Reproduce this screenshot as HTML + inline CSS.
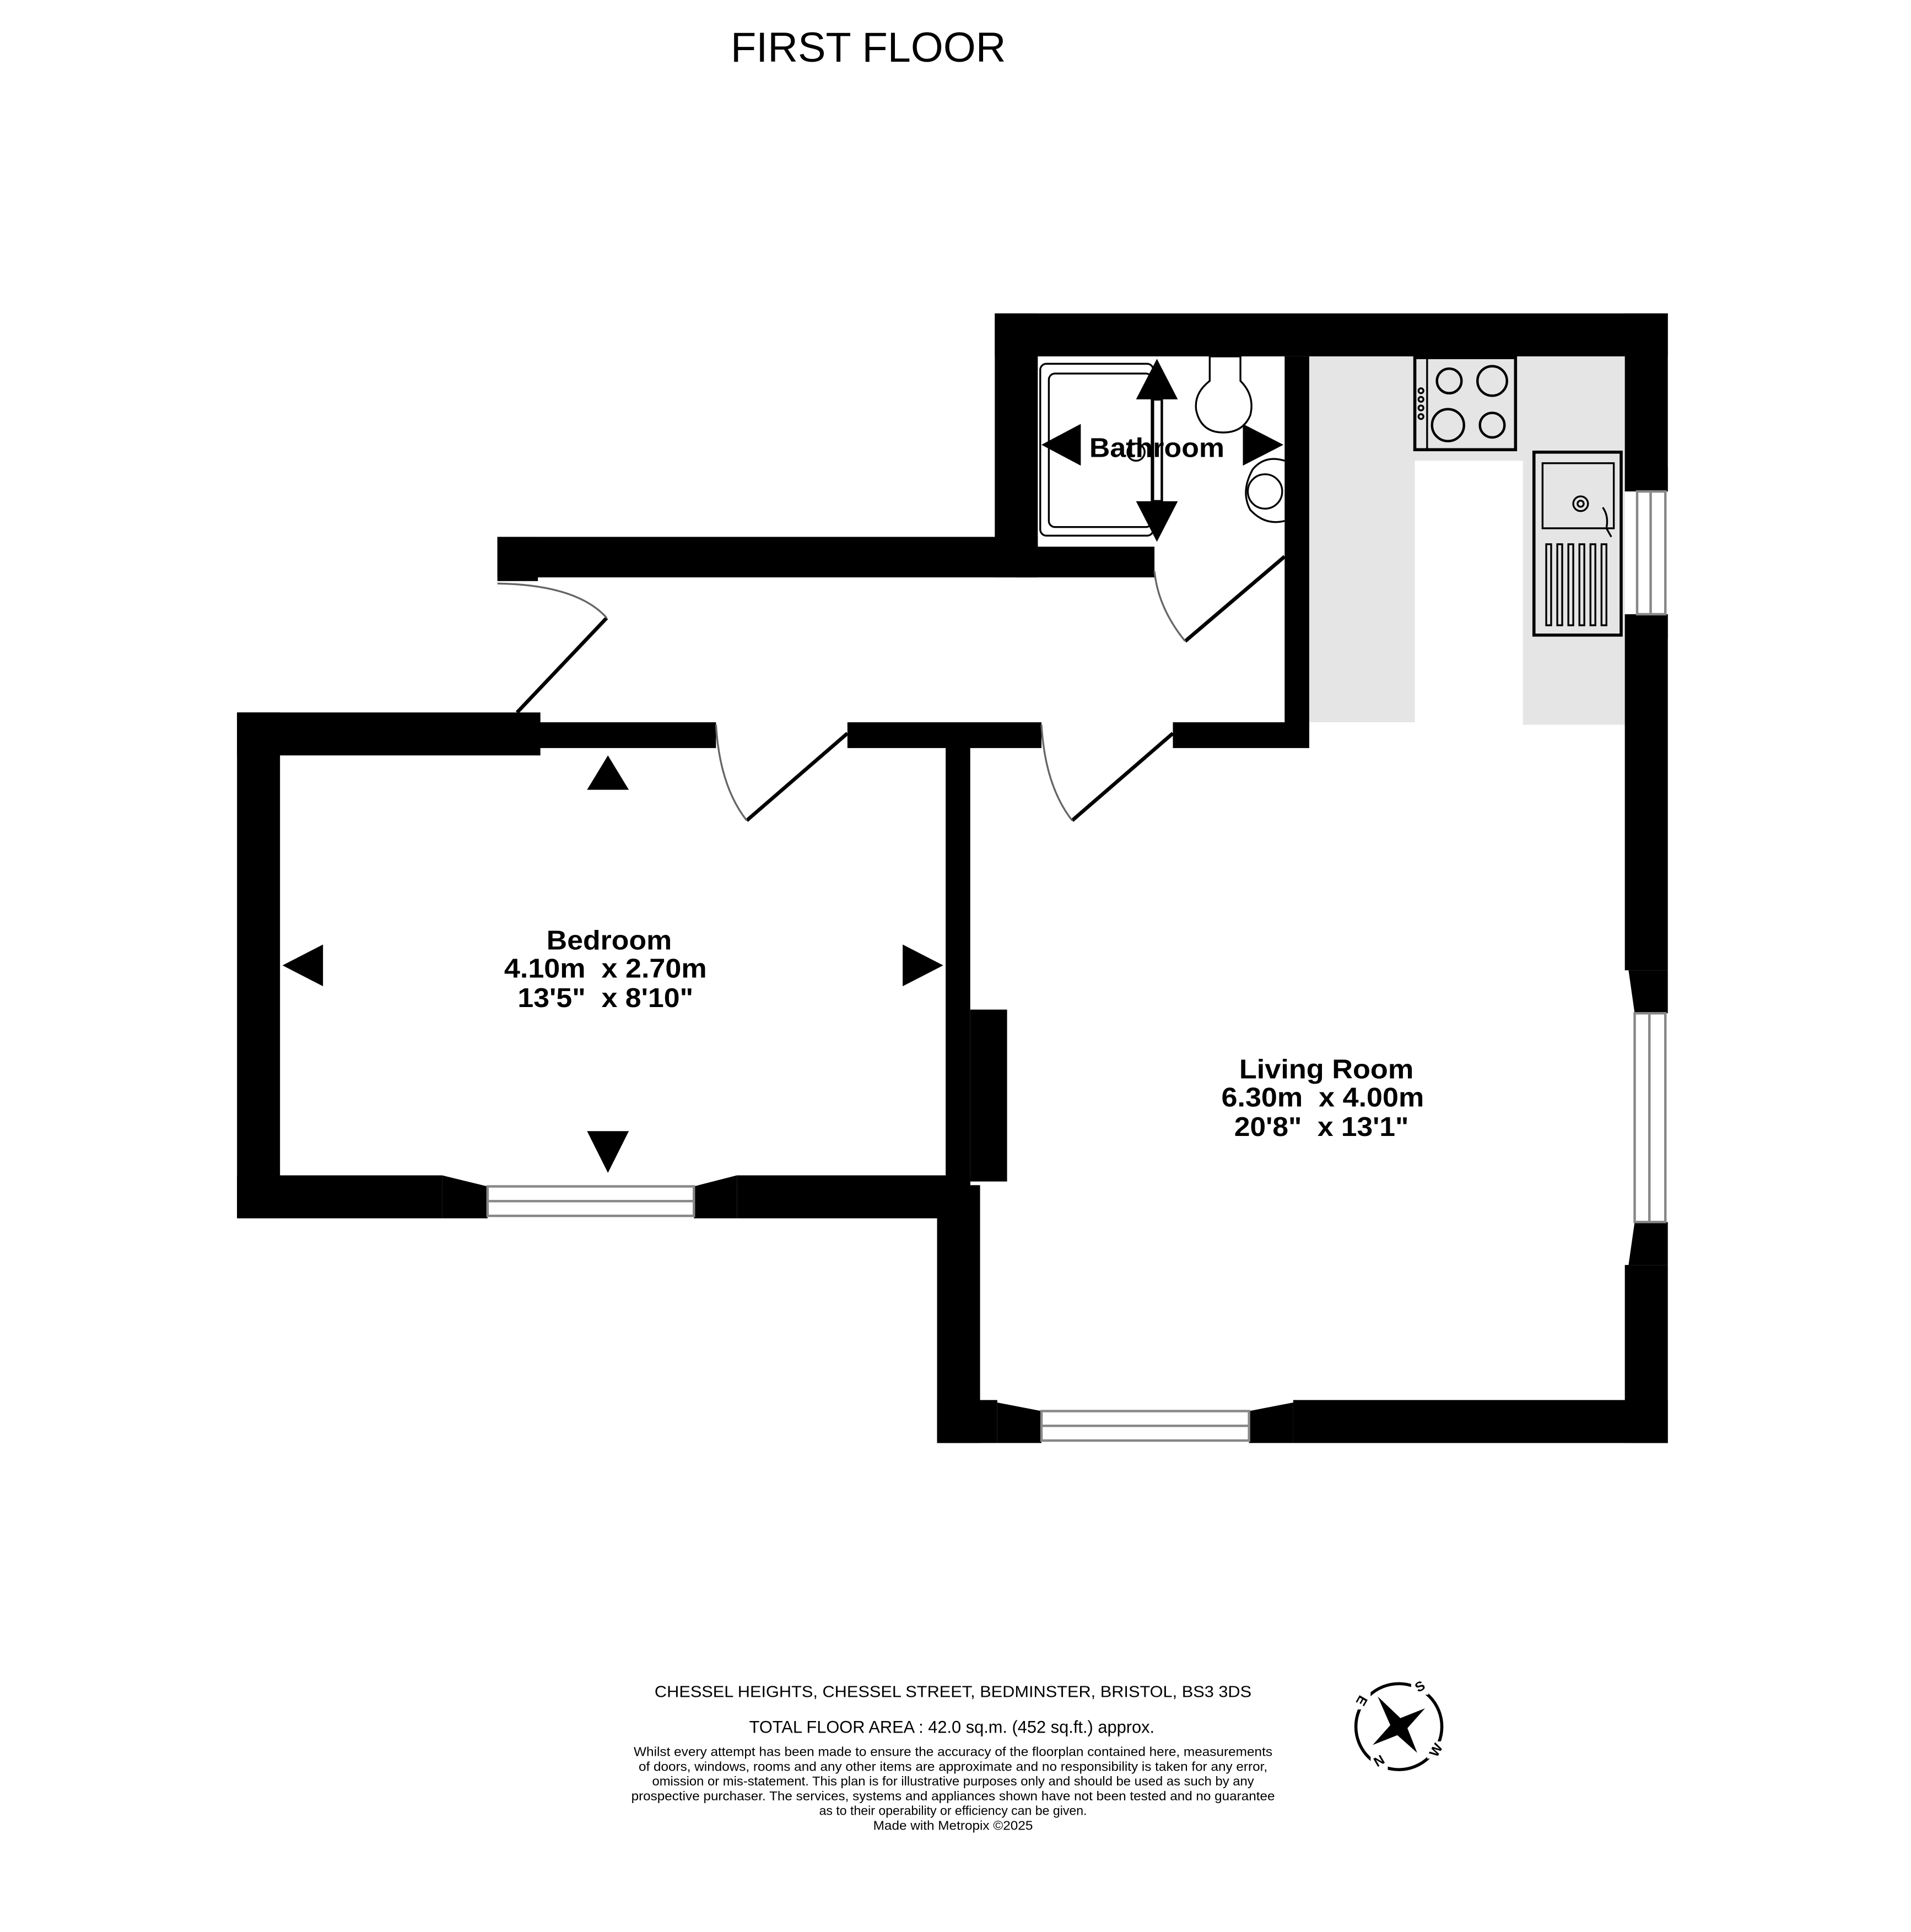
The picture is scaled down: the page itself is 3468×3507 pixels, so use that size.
<!DOCTYPE html>
<html><head><meta charset="utf-8"><style>
html,body{margin:0;padding:0;background:#fff;}
svg{display:block;}
text{font-family:"Liberation Sans",sans-serif;fill:#000;}
</style></head><body>
<svg width="3468" height="3507" viewBox="0 0 1556 1573" xmlns="http://www.w3.org/2000/svg">
<rect width="1556" height="1573" fill="#fff"/>
<text x="707" y="50" font-size="34" text-anchor="middle">FIRST FLOOR</text>

<!-- kitchen grey -->
<rect x="1066" y="290" width="257" height="85" fill="#e5e5e5"/>
<rect x="1066" y="290" width="86" height="298" fill="#e5e5e5"/>
<rect x="1240" y="290" width="83" height="300" fill="#e5e5e5"/>

<g fill="#000">
<!-- top walls -->
<rect x="810" y="255" width="548" height="35"/>
<rect x="810" y="255" width="35" height="215"/>
<rect x="1046" y="290" width="20" height="318"/>
<rect x="828" y="445" width="112" height="25"/>
<rect x="405" y="437" width="440" height="33"/>
<rect x="405" y="437" width="33" height="36"/>
<!-- right wall -->
<rect x="1323" y="255" width="35" height="145"/>
<rect x="1323" y="500" width="35" height="290"/>
<rect x="1323" y="1030" width="35" height="145"/>
<polygon points="1326,790 1358,790 1358,825 1331,825"/>
<polygon points="1331,995 1358,995 1358,1030 1326,1030"/>
<polygon points="1328,380 1358,380 1358,400 1333,400"/>
<polygon points="1333,500 1358,500 1358,520 1328,520"/>
<!-- bottom living wall -->
<rect x="763" y="1140" width="49" height="35"/>
<rect x="1053" y="1140" width="305" height="35"/>
<polygon points="812,1142 848,1149 848,1175 812,1175"/>
<polygon points="1017,1149 1053,1142 1053,1175 1017,1175"/>
<!-- living left -->
<rect x="763" y="965" width="35" height="210"/>
<rect x="770" y="590" width="20" height="400"/>
<rect x="790" y="822" width="30" height="140"/>
<!-- corridor bottom / bedroom top -->
<rect x="193" y="580" width="247" height="35"/>
<rect x="438" y="588" width="145" height="21"/>
<rect x="690" y="588" width="158" height="21"/>
<rect x="955" y="588" width="111" height="21"/>
<!-- bedroom -->
<rect x="193" y="580" width="35" height="412"/>
<rect x="193" y="957" width="167" height="35"/>
<rect x="600" y="957" width="190" height="35"/>
<polygon points="360,957 397,966 397,992 360,992"/>
<polygon points="565,966 600,957 600,992 565,992"/>
<!-- arrows -->
<polygon points="495,615 478,643 512,643"/>
<polygon points="230,786 263,769 263,803"/>
<polygon points="768,786 735,769 735,803"/>
<polygon points="495,955 478,921 512,921"/>
<polygon points="942,292 925,325 959,325"/>
<polygon points="942,441 925,408 959,408"/>
<polygon points="848,362 880,345 880,379"/>
<polygon points="1045,362 1012,345 1012,379"/>
</g>
<rect x="938" y="325" width="8" height="83" fill="none" stroke="#000" stroke-width="2"/>

<!-- windows -->
<g fill="none" stroke="#888" stroke-width="2">
<rect x="397" y="966" width="168" height="24"/><line x1="397" y1="978" x2="565" y2="978"/>
<rect x="848" y="1149" width="169" height="24"/><line x1="848" y1="1161" x2="1017" y2="1161"/>
<rect x="1331" y="825" width="25" height="170"/><line x1="1343" y1="825" x2="1343" y2="995"/>
<rect x="1333" y="400" width="23" height="100"/><line x1="1344" y1="400" x2="1344" y2="500"/>
</g>

<!-- doors -->
<g fill="none" stroke="#000">
<line x1="421" y1="580" x2="494" y2="503" stroke-width="3"/>
<path d="M405,475 Q470,476 494,503" stroke="#666" stroke-width="1.5"/>
<line x1="608" y1="668" x2="690" y2="597" stroke-width="3"/>
<path d="M583,590 Q586,640 608,668" stroke="#666" stroke-width="1.5"/>
<line x1="873" y1="668" x2="955" y2="597" stroke-width="3"/>
<path d="M848,590 Q851,640 873,668" stroke="#666" stroke-width="1.5"/>
<line x1="965" y1="522" x2="1046" y2="453" stroke-width="3"/>
<path d="M940,465 Q943,495 965,522" stroke="#666" stroke-width="1.5"/>
</g>

<!-- bathroom fixtures -->
<g fill="none" stroke="#000" stroke-width="1.5">
<rect x="847" y="296" width="92" height="140" rx="5"/>
<rect x="854" y="304" width="84" height="125" rx="5"/>
<path d="M985,290 L1010,290 L1010,310 Q1022,322 1018,338 Q1012,352 996,352 Q978,352 974,334 Q972,320 985,310 Z"/>
<path d="M1046,375 Q1030,370 1020,382 Q1010,400 1018,415 Q1030,428 1046,424"/>
<circle cx="1030" cy="400" r="14"/>
<circle cx="925" cy="368" r="7"/>
<!-- hob -->
<rect x="1152" y="291" width="82" height="75" stroke-width="2.5"/>
<line x1="1162" y1="291" x2="1162" y2="366"/>
<circle cx="1180" cy="310" r="10" stroke-width="2"/>
<circle cx="1215" cy="310" r="12" stroke-width="2"/>
<circle cx="1179" cy="346" r="13" stroke-width="2"/>
<circle cx="1215" cy="346" r="10" stroke-width="2"/>
<circle cx="1157" cy="318" r="2"/><circle cx="1157" cy="325" r="2"/><circle cx="1157" cy="332" r="2"/><circle cx="1157" cy="339" r="2"/>
<!-- sink -->
<rect x="1249" y="368" width="71" height="149" stroke-width="2.5"/>
<rect x="1256" y="377" width="58" height="53"/>
<circle cx="1287" cy="410" r="6"/><circle cx="1287" cy="410" r="2.5"/>
<path d="M1305,413 Q1310,420 1308,430 L1312,437"/>
<rect x="1259" y="443" width="4" height="66"/><rect x="1268" y="443" width="4" height="66"/>
<rect x="1277" y="443" width="4" height="66"/><rect x="1286" y="443" width="4" height="66"/>
<rect x="1295" y="443" width="4" height="66"/><rect x="1304" y="443" width="4" height="66"/>
</g>

<!-- labels -->
<g font-weight="bold" font-size="22" text-anchor="middle">
<text x="942" y="372" textLength="110" lengthAdjust="spacingAndGlyphs">Bathroom</text>
<text x="496" y="773" textLength="102" lengthAdjust="spacingAndGlyphs">Bedroom</text>
<text x="493" y="796" textLength="165" lengthAdjust="spacingAndGlyphs" xml:space="preserve">4.10m  x 2.70m</text>
<text x="493" y="820" textLength="143" lengthAdjust="spacingAndGlyphs" xml:space="preserve">13'5"  x 8'10"</text>
<text x="1080" y="878" textLength="142" lengthAdjust="spacingAndGlyphs">Living Room</text>
<text x="1077" y="901" textLength="165" lengthAdjust="spacingAndGlyphs" xml:space="preserve">6.30m  x 4.00m</text>
<text x="1076" y="925" textLength="142" lengthAdjust="spacingAndGlyphs" xml:space="preserve">20'8"  x 13'1"</text>
</g>

<!-- footer -->
<g text-anchor="middle">
<text x="776" y="1382" font-size="13" textLength="486" lengthAdjust="spacingAndGlyphs">CHESSEL HEIGHTS, CHESSEL STREET, BEDMINSTER, BRISTOL, BS3 3DS</text>
<text x="775" y="1411" font-size="14" textLength="330" lengthAdjust="spacingAndGlyphs">TOTAL FLOOR AREA : 42.0 sq.m. (452 sq.ft.) approx.</text>
<g font-size="10.5">
<text x="776" y="1430" textLength="520" lengthAdjust="spacingAndGlyphs">Whilst every attempt has been made to ensure the accuracy of the floorplan contained here, measurements</text>
<text x="776" y="1442" textLength="512" lengthAdjust="spacingAndGlyphs">of doors, windows, rooms and any other items are approximate and no responsibility is taken for any error,</text>
<text x="776" y="1454" textLength="490" lengthAdjust="spacingAndGlyphs">omission or mis-statement. This plan is for illustrative purposes only and should be used as such by any</text>
<text x="776" y="1466" textLength="524" lengthAdjust="spacingAndGlyphs">prospective purchaser. The services, systems and appliances shown have not been tested and no guarantee</text>
<text x="776" y="1478" textLength="218" lengthAdjust="spacingAndGlyphs">as to their operability or efficiency can be given.</text>
<text x="776" y="1490" textLength="130" lengthAdjust="spacingAndGlyphs">Made with Metropix ©2025</text>
</g>
</g>

<!-- compass -->
<g transform="translate(1139,1406)">
<circle r="35" fill="none" stroke="#000" stroke-width="2.5"/>
<g transform="rotate(-35)">
<polygon points="0,-30 5,-5 26,0 5,5 0,26 -5,5 -26,0 -5,-5" fill="#000"/>
</g>
<g font-size="11" font-weight="bold" text-anchor="middle">
<rect x="10" y="-40" width="14" height="14" fill="#fff"/>
<text x="17" y="-29" transform="rotate(-30 17 -33)">S</text>
<rect x="23" y="12" width="14" height="14" fill="#fff"/>
<text x="30" y="23" transform="rotate(-60 30 19)">W</text>
<rect x="-23" y="21" width="14" height="14" fill="#fff"/>
<text x="-16" y="32" transform="rotate(150 -16 28)">N</text>
<rect x="-37" y="-28" width="14" height="14" fill="#fff"/>
<text x="-30" y="-17" transform="rotate(120 -30 -21)">E</text>
</g>
</g>
</svg>
</body></html>
